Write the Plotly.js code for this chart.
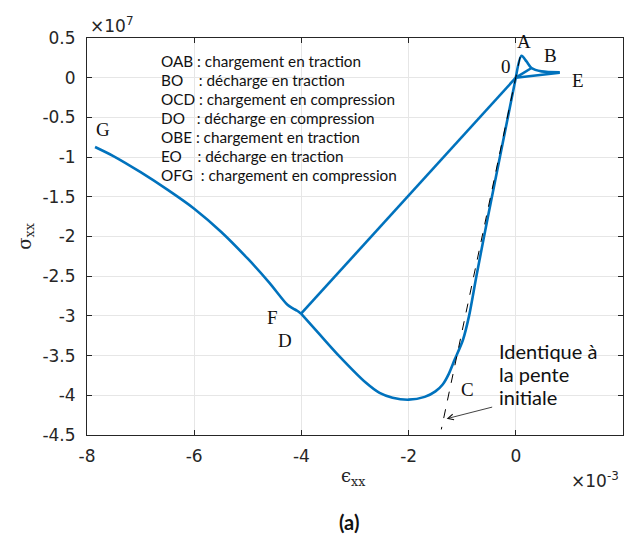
<!DOCTYPE html>
<html>
<head>
<meta charset="utf-8">
<script src="https://cdn.plot.ly/plotly-3.0.1.min.js"></script>
<style>html,body{margin:0;padding:0;background:#fff;}</style>
</head>
<body>
<div id="chart" style="width:627px;height:539px;"></div>
<script>
// strain in units of 1e-3, stress in units of 1e7
const oabX = [0, 0.106, 0.2, 0.293, 0.48, 0.82];
const oabY = [0, 0.277, 0.205, 0.122, 0.08, 0.067];
const boX = [0.293, 0];
const boY = [0.122, 0];
const eoX = [0.82, 0];
const eoY = [0.062, 0];
const ocdX = [0, -0.52, -0.735, -0.872, -0.985, -1.14, -1.25, -1.36, -1.5, -1.7, -2.0, -2.3, -2.542, -2.8, -3.29, -3.664, -4.006];
const ocdY = [0, -1.75, -2.50, -3.0, -3.30, -3.55, -3.73, -3.86, -3.95, -4.02, -4.055, -4.03, -3.97, -3.84, -3.51, -3.23, -2.972];
const doX = [-4.006, 0];
const doY = [-2.972, 0];
const fgX = [-4.006, -4.08, -4.16, -4.26, -4.6, -5.0, -5.5, -6.0, -6.5, -7.0, -7.5, -7.85];
const fgY = [-2.972, -2.935, -2.905, -2.86, -2.58, -2.28, -1.94, -1.65, -1.41, -1.19, -0.99, -0.873];
const slopeX = [0.08, -1.39];
const slopeY = [0.26, -4.43];

const xTicks = [-8, -6, -4, -2, 0, 2];
const xTickText = ['-8', '-6', '-4', '-2', '0', '2'];
const yTicks = [0.5, 0, -0.5, -1, -1.5, -2, -2.5, -3, -3.5, -4, -4.5];
const yTickText = ['0.5', '0', '-0.5', '-1', '-1.5', '-2', '-2.5', '-3', '-3.5', '-4', '-4.5'];

const pointLabels = ['A', 'B', '0', 'E', 'G', 'F', 'D', 'C'];
const pointLabelX = [0.15, 0.654, -0.187, 1.159, -7.70, -4.54, -4.30, -0.90];
const pointLabelY = [0.453, 0.277, 0.139, -0.038, -0.655, -3.02, -3.31, -3.93];

const legendLines = [
  'OAB : chargement en traction',
  'BO\u00a0\u00a0\u00a0\u00a0: décharge en traction',
  'OCD : chargement en compression',
  'DO\u00a0\u00a0\u00a0: décharge en compression',
  'OBE : chargement en traction',
  'EO\u00a0\u00a0\u00a0\u00a0: décharge en traction',
  'OFG\u00a0\u00a0: chargement en compression'
];
const noteLines = ['Identique à', 'la pente', 'initiale'];

const blue = '#0072BD';
function curve(x, y, shape) {
  return {x: x, y: y, type: 'scatter', mode: 'lines',
    line: {color: blue, width: 2.6, shape: shape || 'linear', smoothing: 0.8}, hoverinfo: 'skip'};
}
const traces = [
  curve(doX, doY),
  curve(oabX, oabY, 'spline'),
  curve(boX, boY),
  curve(eoX, eoY),
  curve(ocdX, ocdY, 'spline'),
  curve(fgX, fgY, 'spline'),
  {x: slopeX, y: slopeY, type: 'scatter', mode: 'lines', line: {color: '#000', width: 1, dash: 'dash'}, hoverinfo: 'skip'}
];

const annotations = [];
pointLabels.forEach((t, i) => annotations.push({
  x: pointLabelX[i], y: pointLabelY[i], xref: 'x', yref: 'y', text: t, showarrow: false,
  font: {family: 'Liberation Serif', size: 19, color: '#111'}
}));
const legY = [0.942, 0.894, 0.846, 0.798, 0.751, 0.703, 0.655];
legendLines.forEach((t, i) => annotations.push({
  x: 0.1343, y: legY[i], xref: 'paper', yref: 'paper', xanchor: 'left', yanchor: 'middle',
  text: t, showarrow: false, font: {family: 'Lato', size: 15.3, color: '#111'}
}));
const noteY = [0.211, 0.153, 0.095];
noteLines.forEach((t, i) => annotations.push({
  x: 0.765, y: noteY[i], xref: 'paper', yref: 'paper', xanchor: 'left', yanchor: 'middle',
  text: t, showarrow: false, font: {family: 'Lato', size: 20, color: '#111'}
}));
annotations.push({
  x: -1.29, y: -4.295, xref: 'x', yref: 'y', ax: 47, ay: -12, text: '', showarrow: true,
  arrowhead: 5, arrowsize: 1.4, arrowwidth: 0.8, arrowcolor: '#111'
});
annotations.push({
  x: 0.4963, y: -0.141, xref: 'paper', yref: 'paper', text: 'ϵ<sub>xx</sub>',
  showarrow: false, font: {family: 'DejaVu Serif', size: 18, color: '#262626'}
});
annotations.push({
  x: 0.002, y: 1.0327, xref: 'paper', yref: 'paper', xanchor: 'left', yanchor: 'middle', text: '×10<sup>7</sup>',
  showarrow: false, font: {family: 'DejaVu Sans', size: 17, color: '#262626'}
});
annotations.push({
  x: 0.996, y: -0.1134, xref: 'paper', yref: 'paper', xanchor: 'right', yanchor: 'middle', text: '×10<sup>-3</sup>',
  showarrow: false, font: {family: 'DejaVu Sans', size: 17, color: '#262626'}
});
annotations.push({
  x: 0.489, y: -0.254, xref: 'paper', yref: 'paper', text: '<b>(a)</b>',
  showarrow: false, font: {family: 'Lato', size: 20, color: '#111'}
});

const axisCommon = {
  showgrid: true, gridcolor: '#e6e6e6', gridwidth: 1, zeroline: false,
  showline: true, linecolor: '#262626', linewidth: 1, mirror: 'ticks',
  ticks: 'inside', ticklen: 5, tickcolor: '#262626', tickwidth: 1,
  tickfont: {family: 'DejaVu Sans', size: 17, color: '#262626'},
  tickmode: 'array', fixedrange: true, automargin: false
};
const layout = {
  width: 627, height: 539,
  margin: {l: 87, r: 4, t: 38, b: 104},
  paper_bgcolor: '#fff', plot_bgcolor: '#fff',
  showlegend: false,
  xaxis: Object.assign({}, axisCommon, {range: [-8, 2], tickvals: xTicks, ticktext: xTickText, ticklabelstandoff: 6}),
  yaxis: Object.assign({}, axisCommon, {range: [-4.5, 0.5], tickvals: yTicks, ticktext: yTickText, ticklabelstandoff: 7,
    title: {text: 'σ<sub>xx</sub>', standoff: 6, font: {family: 'DejaVu Serif', size: 18, color: '#262626'}}}),
  annotations: annotations
};
Plotly.newPlot('chart', traces, layout, {displayModeBar: false, staticPlot: true});
</script>
</body>
</html>
